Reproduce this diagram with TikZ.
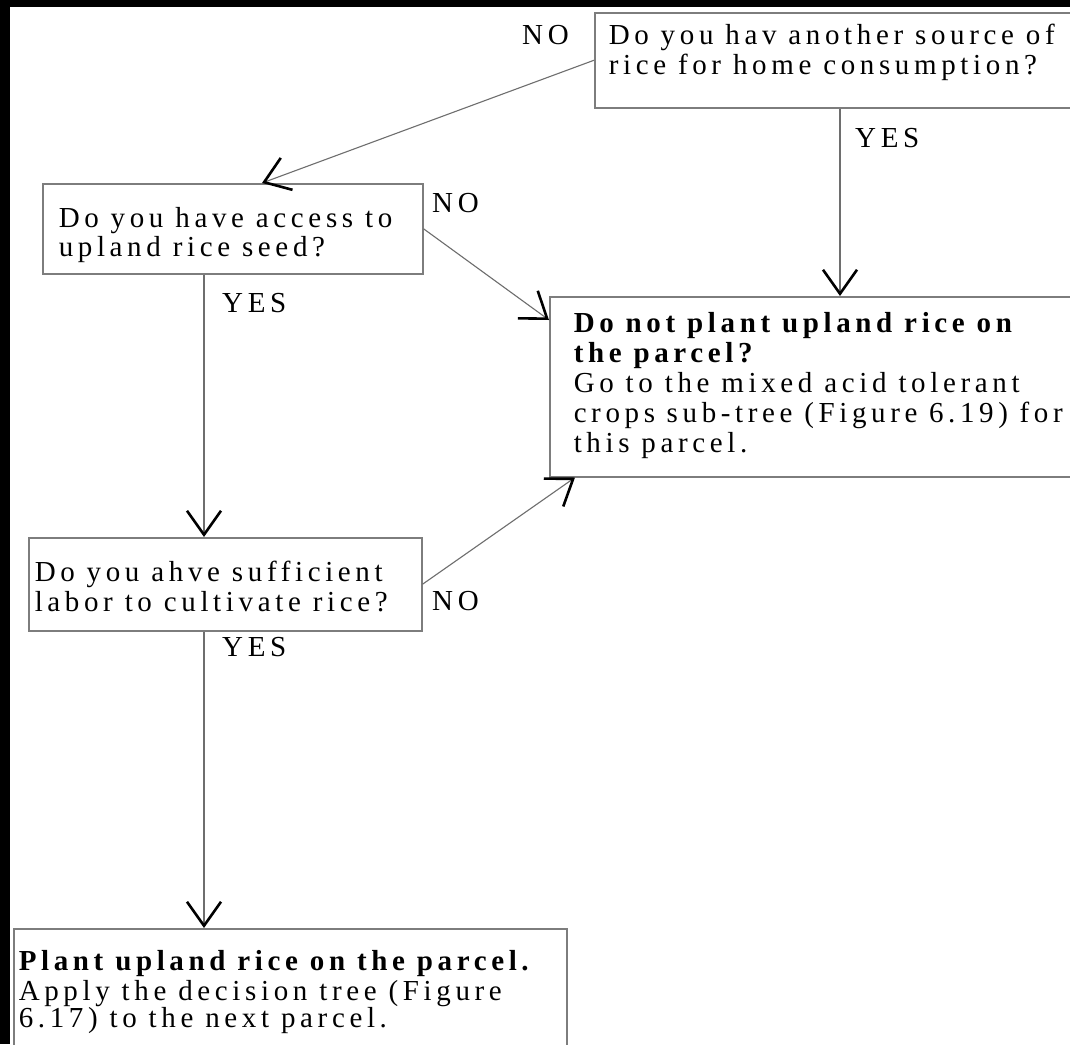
\documentclass[tikz,border=0pt]{standalone}
\usepackage{fontspec}
\setmainfont{Liberation Serif}[LetterSpace=16]
\usetikzlibrary{arrows.meta}
\definecolor{boxgray}{RGB}{125,125,125}
\definecolor{linegray}{RGB}{110,110,110}
\newcommand{\bxt}[4]{\parbox[t][#2][t]{#1}{\raggedright\vspace*{#3}\strut #4}}
\begin{document}
\begin{tikzpicture}[x=1pt,y=-1pt,
  bx/.style={draw=boxgray,line width=1.5pt,fill=white,anchor=north west,inner ysep=0pt,font=\fontsize{29}{28}\selectfont},
  lbl/.style={anchor=base west,inner sep=0pt,font=\fontsize{29}{28}\selectfont},
  conn/.style={draw=linegray,line width=1.1pt,-{Straight Barb[length=24pt,width=34pt,line width=2.6pt,color=black]}}]
\useasboundingbox (0,0) rectangle (1070,1044);
\fill[black] (0,0) rectangle (1070,1044);
\clip (10,7) rectangle (1070,1044);
\fill[white] (10,7) rectangle (1070,1044);

\node[bx,inner xsep=14pt] (Q1) at (594,12) {\bxt{468pt}{95pt}{11.4pt}{Do you hav another source of\\rice for home consumption?}};
\node[bx,inner xsep=16pt] (Q2) at (42,183) {\bxt{348pt}{90pt}{23.4pt}{Do you have access to\\upland rice seed?}};
\node[bx,inner xsep=6pt] (Q3) at (28,537) {\bxt{381pt}{93pt}{23.4pt}{Do you ahve sufficient\\labor to cultivate rice?}};
\node[bx,inner xsep=24pt,font=\fontsize{29}{30}\selectfont] (R1) at (549,296) {\bxt{489pt}{180pt}{15pt}{\textbf{Do not plant upland rice on}\\\textbf{the parcel?}\\Go to the mixed acid tolerant\\crops sub-tree (Figure 6.19) for\\this parcel.}};
\node[bx,inner xsep=5pt,font=\fontsize{29}{27}\selectfont] (B) at (13,928) {\bxt{543pt}{160pt}{22.1pt}{\textbf{Plant upland rice on the parcel.}\\Apply the decision tree (Figure\\6.17) to the next parcel.}};

\node[lbl] (n1) at (522,44) {NO};
\node[lbl] (y1) at (855,147) {YES};
\node[lbl] (n2) at (432,212) {NO};
\node[lbl] (y2) at (222,312) {YES};
\node[lbl] (n3) at (432,610) {NO};
\node[lbl] (y3) at (222,656) {YES};

\coordinate (cA) at (262,0);
\coordinate (cB) at (840,0);
\coordinate (cC) at (204,0);
\draw[conn] (Q1.west) -- (Q2.north -| cA);
\draw[conn] (Q1.south -| cB) -- (R1.north -| cB);
\draw[conn] (Q2.east) -- ([yshift=-24pt]R1.north west);
\draw[conn] (Q2.south -| cC) -- (Q3.north -| cC);
\draw[conn] (Q3.east) -- ([xshift=26pt]R1.south west);
\draw[conn] (Q3.south -| cC) -- (B.north -| cC);
\end{tikzpicture}
\end{document}
